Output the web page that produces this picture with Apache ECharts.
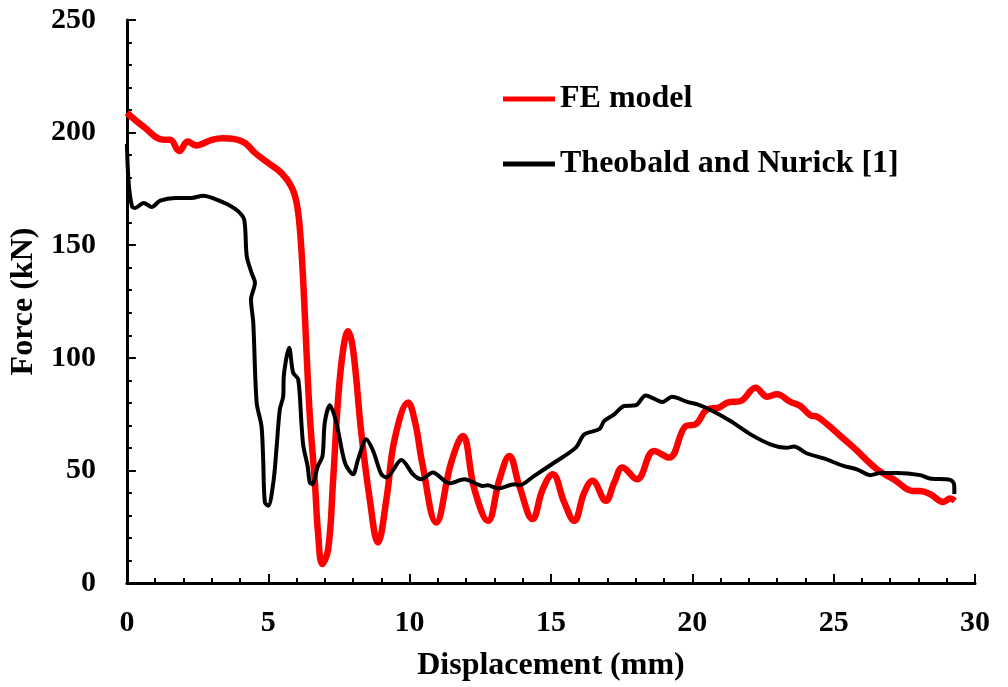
<!DOCTYPE html>
<html>
<head>
<meta charset="utf-8">
<script src="https://cdn.jsdelivr.net/npm/echarts@6/dist/echarts.min.js"></script>
<style>
  html, body { margin: 0; padding: 0; background: #fff; }
  #chart { width: 1008px; height: 687px; }
</style>
</head>
<body>
<div id="chart"></div>
<script>
// Force–displacement response: finite element model vs. experiment
const seriesNames = ['FE model', 'Theobald and Nurick [1]'];

// FE model: [displacement (mm), force (kN)]
const feModel = [
  [0, 208.8], [0.6, 202.5], [1.29, 196.8], [1.53, 196.8], [1.85, 191.8], [2.15, 196],
  [2.45, 194.3], [3.0, 196.8], [3.4, 197.5], [3.82, 197.1], [4.18, 195.4], [4.53, 191],
  [5.0, 186.5], [5.47, 182], [5.82, 176], [6.0, 169], [6.12, 157], [6.24, 133.3],
  [6.35, 103.7], [6.47, 74.2], [6.65, 44.6], [6.76, 22.5], [6.91, 8.4], [7.12, 15],
  [7.29, 44.6], [7.47, 81.6], [7.65, 103.7], [7.82, 111.8], [8.0, 103.7], [8.29, 66.8],
  [8.59, 37.2], [8.88, 18], [9.18, 37.2], [9.47, 63.8], [9.95, 80.1], [10.2, 71],
  [10.45, 53], [10.94, 26.9], [11.47, 53.5], [11.88, 65.3], [12.29, 41.7], [12.77, 27.6],
  [13.18, 46.1], [13.53, 56.4], [13.88, 43.1], [14.35, 28.4], [14.71, 41.7], [15.06, 48.3],
  [15.47, 35.8], [15.82, 27.6], [16.18, 40.2], [16.47, 45.4], [16.94, 36.5], [17.24, 44.6],
  [17.53, 51.3], [18.04, 46.1], [18.65, 58.6], [19.18, 55.7], [19.77, 69.7], [20.12, 70.5],
  [20.53, 77.1], [20.94, 77.9], [21.24, 80.1], [21.71, 80.8], [22.24, 86.7], [22.65, 82.7],
  [23.0, 83.8], [23.47, 80.4], [23.82, 78.6], [24.18, 74.5], [24.41, 73.9], [24.77, 70.5],
  [25.24, 65.3], [25.71, 60.1], [26.53, 50.5], [27.12, 46.1], [27.82, 40.9], [28.06, 40.9],
  [28.41, 39.5], [28.88, 36.0], [29.12, 37.5], [29.29, 36.5]
];

// Experiment (Theobald and Nurick): [displacement (mm), force (kN)]
const experiment = [
  [0, 195], [0.06, 178], [0.18, 167.3], [0.29, 166.5], [0.59, 168.7], [0.88, 167],
  [1.18, 169.8], [1.71, 171], [2.29, 171], [2.71, 172], [3.12, 170.5], [3.59, 168],
  [3.94, 165], [4.15, 161.3], [4.24, 145.1], [4.41, 137.7], [4.53, 133.3], [4.39, 125.9],
  [4.47, 115.6], [4.59, 80.1], [4.76, 69.7], [4.82, 55], [4.88, 35.8], [5.0, 34.3],
  [5.18, 44.6], [5.29, 59.4], [5.41, 77.1], [5.53, 83], [5.55, 91.9], [5.74, 104.5],
  [5.88, 93.4], [6.06, 90.4], [6.18, 69.7], [6.24, 60.9], [6.39, 52], [6.47, 44.6],
  [6.55, 43.9], [6.76, 52], [6.92, 56.4], [7.0, 71.2], [7.18, 78.9], [7.41, 71.2],
  [7.71, 53.5], [8.0, 48.3], [8.18, 55], [8.47, 63.8], [8.71, 58.6], [9.0, 48.3],
  [9.18, 46.9], [9.71, 54.6], [10.12, 48.3], [10.41, 46.1], [10.82, 49.1], [11.41, 44.3],
  [11.94, 46.1], [12.59, 43.1], [12.77, 43.4], [13.12, 42], [13.71, 43.9], [13.88, 43.4],
  [14.41, 47.6], [15.12, 53.5], [15.88, 60.1], [16.18, 66], [16.71, 68.3], [16.88, 71.9],
  [17.24, 74.9], [17.59, 78.6], [18.0, 78.9], [18.35, 83.3], [18.94, 80.4], [19.29, 82.7],
  [19.82, 80.4], [20.18, 79.3], [20.65, 76.8], [21.35, 71.9], [22.06, 66], [22.76, 61.6],
  [23.35, 60.1], [23.59, 60.6], [24.06, 57.5], [24.65, 55.3], [25.35, 52], [25.82, 50.5],
  [26.29, 47.9], [26.65, 48.8], [27.24, 48.8], [28.06, 47.9], [28.41, 46.4], [29.12, 45.8],
  [29.26, 43.9], [29.27, 39.5]
];

const xTicks = { min: 0, max: 30, interval: 5 };
const yTicks = { min: 0, max: 250, interval: 50 };

const FONT = '"Liberation Serif", "Times New Roman", serif';

const chart = echarts.init(document.getElementById('chart'), null, { renderer: 'canvas' });

const axisCommon = {
  axisLine: { show: true, lineStyle: { color: '#000', width: 3 } },
  axisTick: { show: true, inside: true, length: 9, lineStyle: { color: '#000', width: 2 } },
  minorTick: { show: true, splitNumber: 5, length: 5, lineStyle: { color: '#000', width: 2 } },
  splitLine: { show: false },
  axisLabel: { color: '#000', fontFamily: FONT, fontWeight: 'bold', fontSize: 30 },
  nameTextStyle: { color: '#000', fontFamily: FONT, fontWeight: 'bold', fontSize: 32 },
  nameLocation: 'middle'
};

chart.setOption({
  animation: false,
  backgroundColor: '#fff',
  grid: { left: 125, right: 33, top: 20, bottom: 103, containLabel: false },
  legend: {
    orient: 'vertical',
    left: 503,
    top: 83,
    padding: 0,
    icon: 'rect',
    itemWidth: 52,
    itemHeight: 5,
    itemGap: 33,
    data: seriesNames,
    textStyle: { color: '#000', fontFamily: FONT, fontWeight: 'bold', fontSize: 32, lineHeight: 32 }
  },
  xAxis: Object.assign({}, axisCommon, {
    type: 'value',
    min: xTicks.min, max: xTicks.max, interval: xTicks.interval,
    name: 'Displacement (mm)',
    nameGap: 67,
    axisLabel: Object.assign({}, axisCommon.axisLabel, { margin: 25 })
  }),
  yAxis: Object.assign({}, axisCommon, {
    type: 'value',
    min: yTicks.min, max: yTicks.max, interval: yTicks.interval,
    name: 'Force (kN)',
    nameGap: 79,
    nameRotate: 90,
    axisLabel: Object.assign({}, axisCommon.axisLabel, { margin: 31 })
  }),
  series: [
    {
      name: seriesNames[0],
      type: 'line',
      data: feModel,
      smooth: 0.4,
      symbol: 'none',
      lineStyle: { color: '#ff0000', width: 6.5 },
      itemStyle: { color: '#ff0000' },
      z: 2
    },
    {
      name: seriesNames[1],
      type: 'line',
      data: experiment,
      smooth: 0.3,
      symbol: 'none',
      lineStyle: { color: '#000', width: 4 },
      itemStyle: { color: '#000' },
      z: 3
    }
  ]
});
</script>
</body>
</html>
